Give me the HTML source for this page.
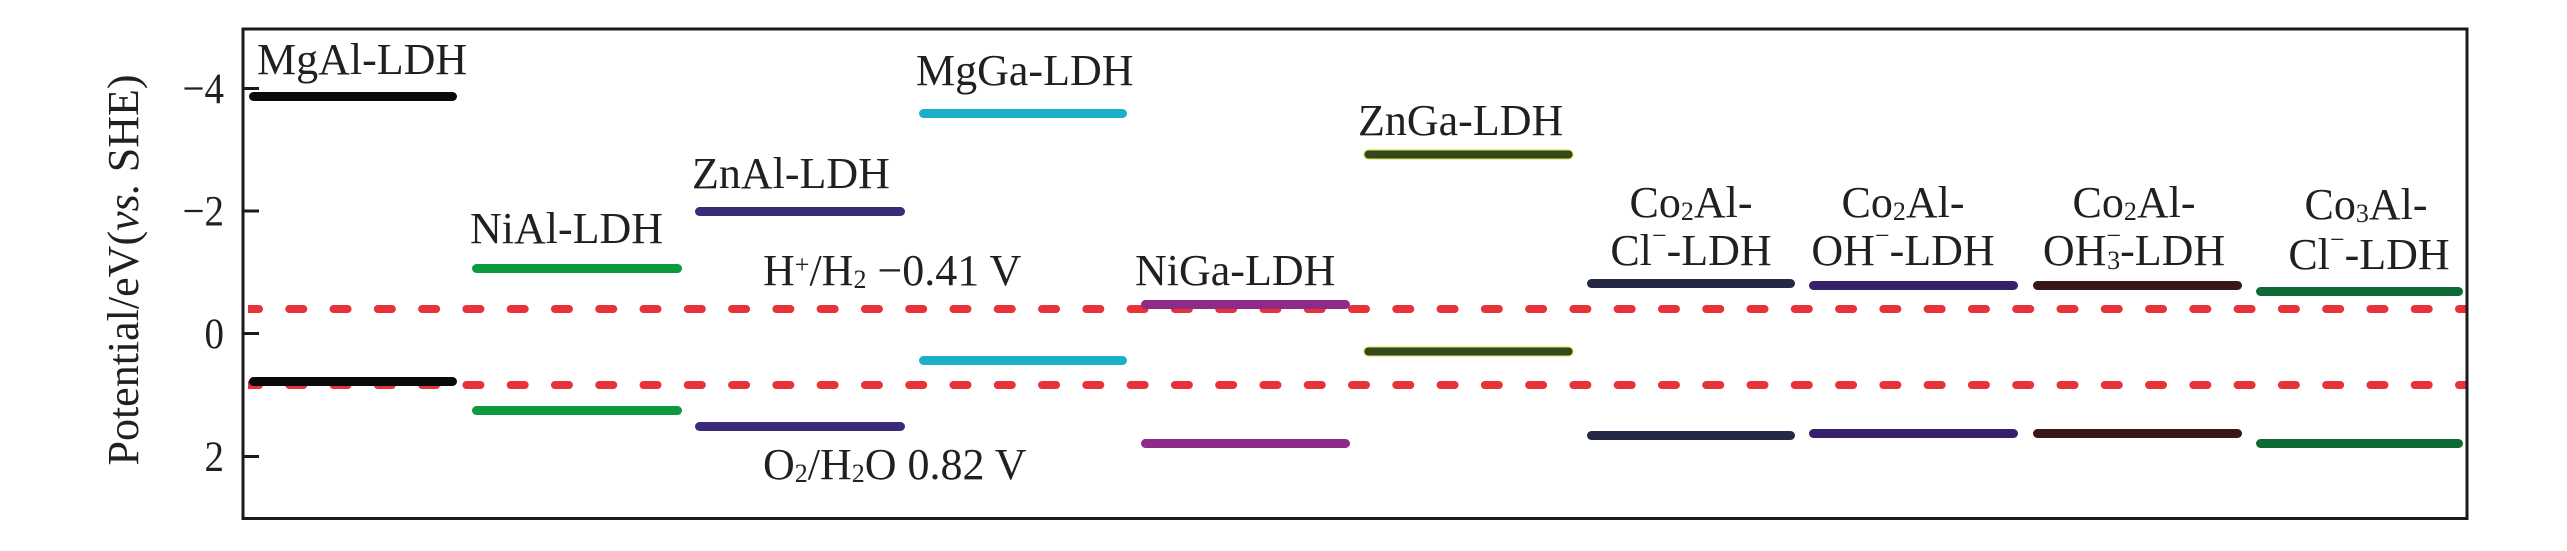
<!DOCTYPE html>
<html>
<head>
<meta charset="utf-8">
<style>
  html,body{margin:0;padding:0;background:#fff;}
  svg{display:block;}
  text{font-family:"Liberation Serif","Times New Roman",serif;fill:#231f20;}
</style>
</head>
<body>
<svg width="2567" height="551" viewBox="0 0 2567 551" xmlns="http://www.w3.org/2000/svg">
  <rect x="0" y="0" width="2567" height="551" fill="#fff"/>
  <defs>
    <clipPath id="plotclip"><rect x="248" y="0" width="2218" height="551"/></clipPath>
  </defs>

  <!-- dashed reference lines -->
  <g clip-path="url(#plotclip)" stroke="#e8323a" stroke-width="8" stroke-linecap="round" stroke-dasharray="14 30.28" fill="none">
    <line x1="245" y1="309" x2="2500" y2="309"/>
    <line x1="245" y1="385" x2="2500" y2="385"/>
  </g>

  <!-- energy level bars -->
  <g>
    <!-- MgAl -->
    <rect x="249" y="92" width="208" height="9" rx="4.5" fill="#0a0a0a"/>
    <rect x="249" y="377" width="208" height="9" rx="4.5" fill="#0a0a0a"/>
    <!-- NiAl -->
    <rect x="472" y="264" width="210" height="9" rx="4.5" fill="#0b9a3c"/>
    <rect x="472" y="406" width="210" height="9" rx="4.5" fill="#0b9a3c"/>
    <!-- ZnAl -->
    <rect x="695" y="207" width="210" height="9" rx="4.5" fill="#3b2a78"/>
    <rect x="695" y="422" width="210" height="9" rx="4.5" fill="#3b2a78"/>
    <!-- MgGa -->
    <rect x="919" y="109" width="208" height="9" rx="4.5" fill="#1ab0c8"/>
    <rect x="919" y="356" width="208" height="9" rx="4.5" fill="#1ab0c8"/>
    <!-- NiGa -->
    <rect x="1141" y="300" width="209" height="9" rx="4.5" fill="#8e2a88"/>
    <rect x="1141" y="439" width="209" height="9" rx="4.5" fill="#8e2a88"/>
    <!-- ZnGa -->
    <rect x="1364" y="150" width="209" height="9" rx="4.5" fill="#34481f" stroke="#d8e040" stroke-width="1"/>
    <rect x="1364" y="347" width="209" height="9" rx="4.5" fill="#34481f" stroke="#d8e040" stroke-width="1"/>
    <!-- Co2Al-Cl -->
    <rect x="1587" y="279" width="208" height="9" rx="4.5" fill="#262846"/>
    <rect x="1587" y="431" width="208" height="9" rx="4.5" fill="#262846"/>
    <!-- Co2Al-OH -->
    <rect x="1809" y="281" width="209" height="9" rx="4.5" fill="#36206a"/>
    <rect x="1809" y="429" width="209" height="9" rx="4.5" fill="#36206a"/>
    <!-- Co2Al-OH3 -->
    <rect x="2033" y="281" width="209" height="9" rx="4.5" fill="#3a1616"/>
    <rect x="2033" y="429" width="209" height="9" rx="4.5" fill="#3a1616"/>
    <!-- Co3Al-Cl -->
    <rect x="2256" y="287" width="207" height="9" rx="4.5" fill="#0e6a34"/>
    <rect x="2256" y="439" width="207" height="9" rx="4.5" fill="#0e6a34"/>
  </g>

  <!-- frame -->
  <rect x="243" y="29" width="2224" height="489.5" fill="none" stroke="#1a1a1a" stroke-width="3"/>
  <!-- ticks -->
  <g stroke="#1a1a1a" stroke-width="3">
    <line x1="243" y1="88.5" x2="259" y2="88.5"/>
    <line x1="243" y1="211" x2="259" y2="211"/>
    <line x1="243" y1="333.5" x2="259" y2="333.5"/>
    <line x1="243" y1="456.5" x2="259" y2="456.5"/>
  </g>

  <!-- tick labels -->
  <g font-size="39" text-anchor="end">
    <text transform="translate(224 103) scale(1 1.12)">−4</text>
    <text transform="translate(224 225.5) scale(1 1.12)">−2</text>
    <text transform="translate(224 348) scale(1 1.12)">0</text>
    <text transform="translate(224 471) scale(1 1.12)">2</text>
  </g>

  <!-- y axis label -->
  <text font-size="44" text-anchor="middle" transform="translate(138 270) rotate(-90)">Potential/eV(<tspan font-style="italic">vs.</tspan> SHE)</text>

  <!-- labels -->
  <g font-size="44">
    <text x="257" y="74">MgAl-LDH</text>
    <text x="470" y="243">NiAl-LDH</text>
    <text x="692" y="188">ZnAl-LDH</text>
    <text x="916" y="85">MgGa-LDH</text>
    <text x="1135" y="285">NiGa-LDH</text>
    <text x="1358" y="135">ZnGa-LDH</text>

    <text x="763" y="285">H<tspan font-size="26" dy="-12">+</tspan><tspan dy="12">/H</tspan><tspan font-size="26" dy="3">2</tspan><tspan dy="-3"> −0.41 V</tspan></text>
    <text x="763" y="479">O<tspan font-size="26" dy="3">2</tspan><tspan dy="-3">/H</tspan><tspan font-size="26" dy="3">2</tspan><tspan dy="-3">O 0.82 V</tspan></text>

    <!-- Co2Al-Cl -->
    <text x="1691" y="217" text-anchor="middle">Co<tspan font-size="26" dy="3">2</tspan><tspan dy="-3">Al-</tspan></text>
    <text x="1691" y="265" text-anchor="middle">Cl<tspan font-size="26" dy="-21">−</tspan><tspan dy="21">-LDH</tspan></text>

    <!-- Co2Al-OH -->
    <text x="1903" y="217" text-anchor="middle">Co<tspan font-size="26" dy="3">2</tspan><tspan dy="-3">Al-</tspan></text>
    <text x="1903" y="265" text-anchor="middle">OH<tspan font-size="26" dy="-21">−</tspan><tspan dy="21">-LDH</tspan></text>

    <!-- Co2Al-OH3 -->
    <text x="2134" y="217" text-anchor="middle">Co<tspan font-size="26" dy="3">2</tspan><tspan dy="-3">Al-</tspan></text>
    <text x="2134" y="265" text-anchor="middle">OH<tspan font-size="26" dy="-21">−</tspan><tspan font-size="26" dx="-14" dy="25">3</tspan><tspan dy="-4">-LDH</tspan></text>

    <!-- Co3Al-Cl -->
    <text x="2366" y="219" text-anchor="middle">Co<tspan font-size="26" dy="3">3</tspan><tspan dy="-3">Al-</tspan></text>
    <text x="2369" y="269" text-anchor="middle">Cl<tspan font-size="26" dy="-21">−</tspan><tspan dy="21">-LDH</tspan></text>
  </g>
</svg>
</body>
</html>
